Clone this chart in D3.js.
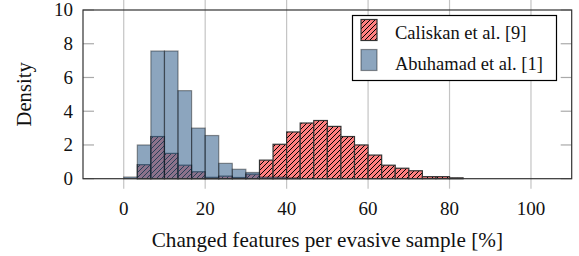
<!DOCTYPE html>
<html>
<head>
<meta charset="utf-8">
<script src="https://cdn.jsdelivr.net/npm/d3@7"></script>
<style>
  body { margin: 0; background: #fff; }
  text { font-family: "Liberation Serif", "DejaVu Serif", serif; fill: #111; }
</style>
</head>
<body>
<svg id="chart" width="579" height="256"></svg>
<script>
// histogram, 30 bins of width 100/30 from 0 to 100
var binCount = 30;
var binWidth = 100 / binCount;

var caliskan = [0, 0.83, 2.5, 1.5, 0.8, 0.41, 0.08, 0.15, 0.07, 0.27,
  1.1, 2.04, 2.77, 3.3, 3.45, 3.1, 2.5, 2.0, 1.4, 0.8,
  0.62, 0.47, 0.12, 0.12, 0.05, 0, 0, 0, 0, 0];

var abuhamad = [0.1, 2.0, 7.57, 7.57, 5.22, 3.0, 2.56, 0.91, 0.56, 0.37,
  0.1, 0.1, 0.05, 0, 0, 0, 0, 0, 0, 0,
  0, 0, 0, 0, 0, 0, 0, 0, 0, 0];

var xTicks = [0, 20, 40, 60, 80, 100];
var yTicks = [0, 2, 4, 6, 8, 10];
var seriesNames = ["Caliskan et al. [9]", "Abuhamad et al. [1]"];

var svg = d3.select("#chart");
var plotLeft = 83, plotRight = 571.7, plotTop = 10, plotBottom = 178.7;

var x = d3.scaleLinear().domain([-10, 110]).range([plotLeft, plotRight]);
var y = d3.scaleLinear().domain([0, 10]).range([plotBottom, plotTop]);

// hatch pattern
var defs = svg.append("defs");
var pat = defs.append("pattern")
  .attr("id", "hatch")
  .attr("patternUnits", "userSpaceOnUse")
  .attr("width", 5).attr("height", 5);
pat.append("rect").attr("width", 5).attr("height", 5).attr("fill", "#ff7f7f");
pat.append("path")
  .attr("d", "M-1,1 L1,-1 M0,5 L5,0 M4,6 L6,4")
  .attr("stroke", "#000").attr("stroke-width", 1);

// vertical grid (extends as outer ticks)
svg.append("g").selectAll("line")
  .data(xTicks).enter().append("line")
  .attr("x1", d => x(d)).attr("x2", d => x(d))
  .attr("y1", 0).attr("y2", plotBottom + 10)
  .attr("stroke", "#c4c4c4").attr("stroke-width", 1.2);

// y ticks, inward on both sides
var yt = svg.append("g");
yt.selectAll("line.l").data(yTicks).enter().append("line")
  .attr("class", "l")
  .attr("x1", plotLeft).attr("x2", plotLeft + 11)
  .attr("y1", d => y(d)).attr("y2", d => y(d))
  .attr("stroke", "#aaa").attr("stroke-width", 1.2);
yt.selectAll("line.r").data(yTicks).enter().append("line")
  .attr("class", "r")
  .attr("x1", plotRight - 11).attr("x2", plotRight)
  .attr("y1", d => y(d)).attr("y2", d => y(d))
  .attr("stroke", "#aaa").attr("stroke-width", 1.2);

// red bars first
svg.append("g").selectAll("rect")
  .data(caliskan).enter().append("rect")
  .attr("x", (d, i) => x(i * binWidth))
  .attr("width", (d, i) => x((i + 1) * binWidth) - x(i * binWidth))
  .attr("y", d => y(d))
  .attr("height", d => y(0) - y(d))
  .attr("fill", "url(#hatch)")
  .attr("stroke", "#333").attr("stroke-width", 1.2);

// blue bars on top, semi transparent
svg.append("g").selectAll("rect")
  .data(abuhamad).enter().append("rect")
  .attr("x", (d, i) => x(i * binWidth))
  .attr("width", (d, i) => x((i + 1) * binWidth) - x(i * binWidth))
  .attr("y", d => y(d))
  .attr("height", d => y(0) - y(d))
  .attr("fill", "rgb(63,105,147)").attr("fill-opacity", 0.6)
  .attr("stroke", "#000").attr("stroke-opacity", 0.4).attr("stroke-width", 1.2);

// frame
svg.append("rect")
  .attr("x", plotLeft).attr("y", plotTop)
  .attr("width", plotRight - plotLeft).attr("height", plotBottom - plotTop)
  .attr("fill", "none").attr("stroke", "#333").attr("stroke-width", 1.2);

// tick labels
svg.append("g").selectAll("text")
  .data(yTicks).enter().append("text")
  .attr("x", 73).attr("y", d => y(d))
  .attr("dy", "0.34em")
  .attr("text-anchor", "end")
  .attr("font-size", 19)
  .text(d => d);

svg.append("g").selectAll("text")
  .data(xTicks).enter().append("text")
  .attr("x", d => x(d)).attr("y", 215)
  .attr("text-anchor", "middle")
  .attr("font-size", 19)
  .text(d => d);

// axis titles
svg.append("text")
  .attr("x", (plotLeft + plotRight) / 2).attr("y", 247)
  .attr("text-anchor", "middle")
  .attr("font-size", 21.2)
  .text("Changed features per evasive sample [%]");

svg.append("text")
  .attr("transform", "translate(31," + ((plotTop + plotBottom) / 2) + ") rotate(-90)")
  .attr("text-anchor", "middle")
  .attr("font-size", 20.7)
  .text("Density");

// legend
var lg = svg.append("g");
lg.append("rect")
  .attr("x", 352.5).attr("y", 15.5)
  .attr("width", 204).attr("height", 65)
  .attr("fill", "#fff").attr("stroke", "#000").attr("stroke-width", 1.2);
lg.append("rect")
  .attr("x", 361).attr("y", 19.5).attr("width", 16).attr("height", 21)
  .attr("fill", "url(#hatch)").attr("stroke", "#333").attr("stroke-width", 1.2);
lg.append("rect")
  .attr("x", 361).attr("y", 49.5).attr("width", 16).attr("height", 21)
  .attr("fill", "rgb(63,105,147)").attr("fill-opacity", 0.6)
  .attr("stroke", "#000").attr("stroke-opacity", 0.4).attr("stroke-width", 1.2);
lg.selectAll("text.name").data(seriesNames).enter().append("text")
  .attr("class", "name")
  .attr("x", 395).attr("y", (d, i) => 39 + i * 31)
  .attr("font-size", 18.5)
  .text(d => d);
</script>
</body>
</html>
